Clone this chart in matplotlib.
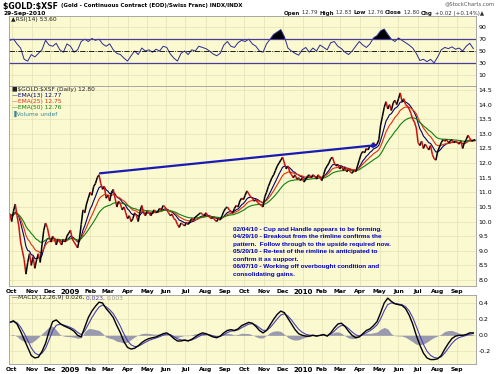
import numpy as np
import pandas as pd
import matplotlib
matplotlib.use('Agg')
import matplotlib.pyplot as plt
from matplotlib.collections import LineCollection

# ---------------- data ----------------
# closes every 2nd trading day
close = [
    10.25, 10.0, 10.35, 10.6, 10.2, 9.85, 9.3, 9.0, 8.7, 8.2,
    8.6, 8.9, 8.5, 8.8, 8.4, 8.7, 8.9, 8.6, 9.2, 9.7,
    9.95, 9.8, 9.5, 9.3, 9.5, 9.4, 9.2, 9.4, 9.3, 9.2,
    9.4, 9.3, 9.5, 9.6, 9.7, 9.4, 9.3, 9.2, 9.1, 9.4,
    9.9, 10.4, 10.3, 10.6, 10.8, 11.0, 10.9, 11.2, 11.3, 11.5,
    11.6, 11.3, 11.1, 11.2, 10.8, 10.9, 10.7, 11.0, 11.1, 10.8,
    10.5, 10.7, 10.6, 10.4, 10.5, 10.3, 10.1, 10.2, 10.0, 10.1,
    10.3, 10.2, 10.0, 10.35, 10.55, 10.3, 10.2, 10.35, 10.3, 10.2,
    10.3, 10.4, 10.3, 10.35, 10.45, 10.4, 10.55, 10.5, 10.4, 10.3,
    10.2, 10.25, 10.1, 10.05, 9.9, 9.8, 9.95, 9.9, 9.85, 9.95,
    9.9, 10.0, 10.1, 10.05, 10.15, 10.2, 10.25, 10.3, 10.25, 10.2,
    10.3, 10.2, 10.15, 10.1, 10.15, 10.05, 10.0, 10.1, 10.05, 10.2,
    10.35, 10.45, 10.5, 10.4, 10.35, 10.3, 10.45, 10.55, 10.5, 10.7,
    10.8, 10.75, 10.9, 11.05, 10.95, 10.85, 10.8, 10.7, 10.75, 10.65,
    10.6, 10.55, 10.5, 10.85, 11.0, 11.2, 11.35, 11.5, 11.6, 11.75,
    11.9, 12.0, 12.1, 12.2, 12.0, 11.8, 11.9, 11.7, 11.6, 11.5,
    11.6, 11.45, 11.5, 11.4, 11.5, 11.35, 11.45, 11.55, 11.6, 11.5,
    11.6, 11.55, 11.45, 11.6, 11.5, 11.4, 11.6, 11.8, 11.9, 12.0,
    12.15, 12.2, 12.0, 11.9, 11.95, 11.8, 11.9, 11.75, 11.85, 11.7,
    11.8, 11.7, 11.65, 11.75, 11.7, 11.9, 12.1, 12.3, 12.4, 12.35,
    12.5, 12.45, 12.6, 12.55, 12.7, 12.6, 12.65, 12.8, 13.3, 13.6,
    13.9, 14.1, 13.85, 14.0, 13.8, 14.05, 14.15, 14.0, 14.2, 14.4,
    14.1, 14.2, 14.0, 13.95, 13.85, 13.7, 13.5, 13.4, 13.2, 12.7,
    12.6, 12.75, 12.5, 12.65, 12.55, 12.45, 12.6, 12.3, 12.15, 12.1,
    12.4, 12.55, 12.7, 12.8, 12.75, 12.8, 12.7, 12.75, 12.8, 12.7,
    12.75, 12.7, 12.65, 12.75, 12.5, 12.7, 12.8, 12.95, 12.85, 12.75,
    12.78, 12.80,
]
# RSI(14) every 4th trading day
rsi_values = [
    68, 70, 62, 55, 36, 33, 44, 40, 46, 52,
    68, 60, 58, 63, 52, 48, 62, 58, 48, 52,
    66, 70, 66, 71, 68, 70, 62, 58, 62, 52,
    46, 44, 38, 33, 42, 50, 44, 55, 50, 52,
    48, 53, 50, 58, 56, 45, 38, 33, 46, 50,
    44, 52, 50, 58, 56, 54, 50, 45, 42, 46,
    60, 66, 58, 56, 64, 68, 66, 70, 62, 58,
    50, 48, 62, 70, 78, 82, 86, 74, 55, 50,
    46, 43, 52, 56, 48, 55, 50, 60, 56, 52,
    64, 66, 58, 54, 48, 44, 50, 58, 66, 60,
    56, 62, 72, 76, 84, 87, 78, 70, 66, 72,
    68, 64, 60, 55, 46, 34, 36, 32, 36, 30,
    40, 52, 56, 54, 57, 53, 55, 50, 58, 63,
    54,
]
# MACD line every 4th trading day
macd_values = [
    0.16, 0.18, 0.14, 0.05, -0.05, -0.15, -0.25, -0.28, -0.27, -0.20,
    -0.10, 0.05, 0.17, 0.19, 0.15, 0.12, 0.10, 0.08, 0.05, 0.00,
    -0.02, 0.10, 0.22, 0.30, 0.36, 0.41, 0.40, 0.33, 0.28, 0.22,
    0.12, 0.03, -0.08, -0.15, -0.17, -0.16, -0.13, -0.09, -0.06, -0.04,
    -0.03, -0.02, 0.00, 0.02, 0.03, 0.00, -0.04, -0.07, -0.07, -0.06,
    -0.07, -0.05, -0.02, 0.01, 0.03, 0.02, 0.00, -0.02, -0.03, -0.01,
    0.03, 0.06, 0.07, 0.06, 0.08, 0.12, 0.14, 0.16, 0.15, 0.11,
    0.06, 0.03, 0.06, 0.13, 0.20, 0.26, 0.30, 0.28, 0.21, 0.14,
    0.07, 0.02, 0.00, -0.01, -0.01, 0.00, -0.01, 0.00, 0.01, -0.01,
    0.03, 0.09, 0.14, 0.15, 0.11, 0.05, 0.00, -0.03, -0.02, 0.02,
    0.06, 0.08, 0.12, 0.17, 0.28, 0.40, 0.46, 0.42, 0.39, 0.38,
    0.37, 0.33, 0.25, 0.14, 0.00, -0.12, -0.22, -0.28, -0.30, -0.30,
    -0.29, -0.25, -0.17, -0.10, -0.04, -0.01, 0.00, 0.00, 0.01, 0.03,
    0.03,
]
month_labels = ['Oct', 'Nov', 'Dec', '2009', 'Feb', 'Mar', 'Apr', 'May', 'Jun', 'Jul',
                'Aug', 'Sep', 'Oct', 'Nov', 'Dec', '2010', 'Feb', 'Mar', 'Apr', 'May',
                'Jun', 'Jul', 'Aug', 'Sep']
price_ticks = [14.5, 14.0, 13.5, 13.0, 12.5, 12.0, 11.5, 11.0, 10.5, 10.0, 9.5, 9.0, 8.5, 8.0]
rsi_ticks = [90, 70, 50, 30, 10]
macd_ticks = [0.4, 0.2, 0.0, -0.2]
trend_dates = ['2009-02-17', '2010-04-29']
trend_values = [11.65, 12.62]
ema_periods = [13, 25, 50]
ema_labels = ['EMA(13) 12.77', 'EMA(25) 12.75', 'EMA(50) 12.76']
notes = ["02/04/10 - Cup and Handle appears to be forming.",
         "04/29/10 - Breakout from the rimline confirms the",
         "pattern.  Follow through to the upside required now.",
         "05/20/10 - Re-test of the rimline is anticipated to",
         "confirm it as support.",
         "06/07/10 - Working off overbought condition and",
         "consolidating gains."]

# ---------------- derived series ----------------
full = pd.bdate_range('2008-09-29', '2010-09-29')
n = len(close)
xs = np.arange(n) * 2
xs4 = np.arange(len(rsi_values)) * 4
xm4 = np.arange(len(macd_values)) * 4
c = pd.Series(close, dtype=float)

def ema(s, period, step):
    # lag-matched EMA for data sampled every `step` trading days
    a = 1.0 / (1.0 + (period - 1) / 2.0 / step)
    return s.ewm(alpha=a, adjust=False).mean()

emas = [ema(c, p, 2) for p in ema_periods]
rsi = np.array(rsi_values, dtype=float)
macd_s = pd.Series(macd_values, dtype=float)
sig = ema(macd_s, 9, 4).values
macd = macd_s.values
hist = macd - sig

months = full.to_period('M')
mticks = [i for i in range(1, len(full)) if months[i] != months[i - 1]]

# ---------------- figure ----------------
BG = '#FBF9D0'
GRID = '#E4E1B4'
SPINE = '#9a9a9a'
fig = plt.figure(figsize=(5, 3.74), dpi=100)
W, H = 500, 374
L, R = 9, 476

def axes_px(top, bottom):
    return fig.add_axes([L / W, 1 - bottom / H, (R - L) / W, (bottom - top) / H])

ax_r = axes_px(16, 86)
ax_p = axes_px(86, 286)
ax_m = axes_px(295, 364)

for ax in (ax_r, ax_p, ax_m):
    ax.set_facecolor(BG)
    ax.set_xlim(-1, xs[-1] + 1)
    ax.set_xticks(mticks)
    ax.tick_params(length=0, labelsize=4.5, pad=2)
    ax.yaxis.tick_right()
    for s in ax.spines.values():
        s.set_color(SPINE)
        s.set_linewidth(0.6)
    ax.grid(True, color=GRID, lw=0.5)
    ax.set_axisbelow(True)

# RSI
ax_r.set_ylim(-9, 109)
ax_r.set_yticks(rsi_ticks)
ax_r.set_yticklabels([str(t) for t in rsi_ticks])
ax_r.set_xticklabels([])
ax_r.fill_between(xs4, rsi, 70, where=rsi > 70, color='black', lw=0, interpolate=True)
ax_r.fill_between(xs4, rsi, 30, where=rsi < 30, color='#2a2a90', lw=0, interpolate=True)
ax_r.plot(xs4, rsi, color='#2a2a90', lw=0.7)
ax_r.axhline(70, color='#4b3d9a', lw=0.9)
ax_r.axhline(30, color='#4b3d9a', lw=0.9)
ax_r.axhline(50, color='black', lw=0.6, ls='-.')
ax_r.text(0.004, 0.955, '\u25B2RSI(14) 53.60', transform=ax_r.transAxes, fontsize=4.3,
          va='center', ha='left', color='#222222')

# Price
ax_p.set_ylim(7.795, 14.637)
ax_p.set_yticks(price_ticks)
ax_p.set_yticklabels(['%.1f' % t for t in price_ticks])
ax_p.set_xticklabels(month_labels, fontsize=4.3, fontweight='bold')
for lbl in ax_p.get_xticklabels():
    if lbl.get_text() in ('2009', '2010'):
        lbl.set_fontsize(5)
for e, col in zip(emas, ['#000070', '#e03010', '#108010']):
    ax_p.plot(xs, e.values, color=col, lw=0.8)
segs = [[(xs[i - 1], close[i - 1]), (xs[i], close[i])] for i in range(1, n)]
cols = ['black' if close[i] >= close[i - 1] else '#cc1010' for i in range(1, n)]
ax_p.add_collection(LineCollection(segs, colors=cols, linewidths=1.1))
tx = [full.get_loc(pd.Timestamp(t)) for t in trend_dates]
ax_p.annotate('', xy=(tx[1], trend_values[1]), xytext=(tx[0], trend_values[0]),
              arrowprops=dict(arrowstyle='-|>', color='#1a1ab4', lw=1.6,
                              mutation_scale=5, shrinkA=0, shrinkB=0))
ax_p.text(0.48, 0.295, '\n'.join(notes), transform=ax_p.transAxes, fontsize=4.6,
          fontweight='bold', color='#0000c8', va='top', ha='left', linespacing=1.62,
          family='Liberation Sans')
leg = [('\u25A0\\$GOLD:\\$XSF (Daily) 12.80', '#222222'),
       ('\u2014' + ema_labels[0], '#000070'),
       ('\u2014' + ema_labels[1], '#e03010'),
       ('\u2014' + ema_labels[2], '#108010'),
       ('\u2590Volume undef', '#3a8a9a')]
for i, (t, col) in enumerate(leg):
    ax_p.text(0.006, 0.98 - 0.03 * i, t, transform=ax_p.transAxes, fontsize=4.2,
              color=col, va='center', ha='left')

# MACD
ax_m.set_ylim(-0.355, 0.499)
ax_m.set_yticks(macd_ticks)
ax_m.set_yticklabels(['%.1f' % t for t in macd_ticks])
ax_m.set_xticklabels(month_labels, fontsize=4.3, fontweight='bold')
for lbl in ax_m.get_xticklabels():
    if lbl.get_text() in ('2009', '2010'):
        lbl.set_fontsize(5)
ax_m.fill_between(xm4, 0, hist, color='#9a9aae', lw=0)
ax_m.plot(xm4, sig, color='#4a3fb0', lw=0.8)
ax_m.plot(xm4, macd, color='black', lw=1.0)

fig.canvas.draw()
rend = fig.canvas.get_renderer()

def seq_text(x0, y, pieces, size):
    xp = x0
    for t, col, wgt, sz in pieces:
        tt = fig.text(xp / W, 1 - y / H, t, fontsize=sz, fontweight=wgt, color=col,
                      va='center', ha='left')
        xp += tt.get_window_extent(rend).width
    return xp

seq_text(12, 298, [('\u2014MACD(12,26,9) 0.026, ', '#222222', 'normal', 4.3),
                   ('0.023, ', '#4a3fb0', 'normal', 4.3),
                   ('0.003', '#999999', 'normal', 4.3)], 4.3)

# Header
seq_text(3, 6, [('\\$GOLD:\\$XSF ', 'black', 'bold', 5.6),
                ('(Gold - Continuous Contract (EOD)/Swiss Franc) INDX/INDX', 'black', 'bold', 4.0)], 4.0)
fig.text(3 / W, 1 - 13 / H, '29-Sep-2010', fontsize=4.3, fontweight='bold', va='center', ha='left')
fig.text(495 / W, 1 - 4 / H, '@StockCharts.com', fontsize=3.8, color='#555555', va='center', ha='right')
pieces = [('Open', '#111111', 'bold', 4.0), (' 12.79 ', '#333333', 'normal', 4.0),
          ('High', '#111111', 'bold', 4.0), (' 12.83 ', '#333333', 'normal', 4.0),
          ('Low', '#111111', 'bold', 4.0), (' 12.76 ', '#333333', 'normal', 4.0),
          ('Close', '#111111', 'bold', 4.0), (' 12.80 ', '#333333', 'normal', 4.0),
          ('Chg', '#111111', 'bold', 4.0), (' +0.02 (+0.14%)\u25B2', '#333333', 'normal', 4.0)]
seq_text(284, 13, pieces, 4.0)

fig.savefig('out.png', dpi=100, facecolor='white')
